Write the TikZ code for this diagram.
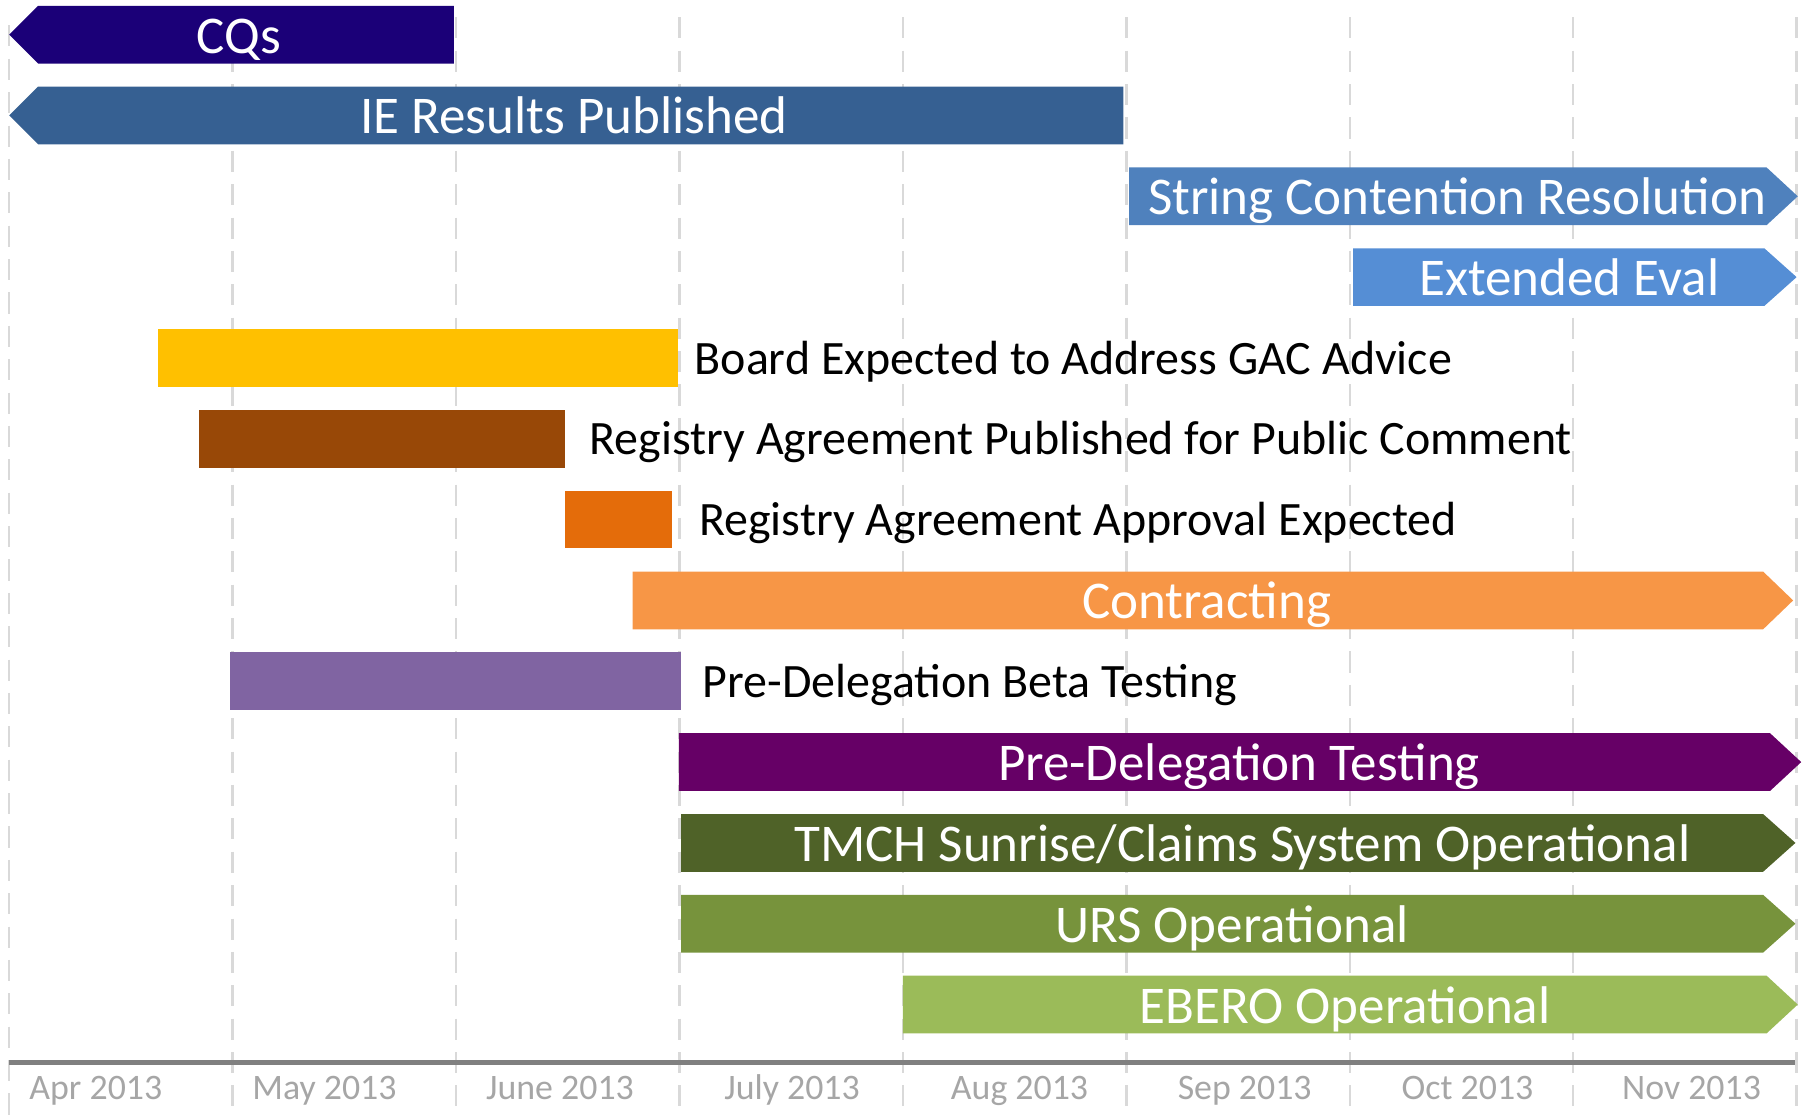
\documentclass[tikz,border=0pt]{standalone}
\usepackage{fontspec}
\setmainfont{Carlito}
\definecolor{gridgray}{HTML}{D9D9D9}
\definecolor{axisgray}{HTML}{808080}
\definecolor{monthgray}{HTML}{A6A6A6}
\definecolor{cqs}{HTML}{1B0078}
\definecolor{ie}{HTML}{366092}
\definecolor{scr}{HTML}{4F81BD}
\definecolor{ext}{HTML}{558ED5}
\definecolor{board}{HTML}{FFC000}
\definecolor{rapub}{HTML}{984807}
\definecolor{raapp}{HTML}{E46C0A}
\definecolor{contr}{HTML}{F79646}
\definecolor{pdbt}{HTML}{8064A2}
\definecolor{pdt}{HTML}{660066}
\definecolor{tmch}{HTML}{4F6228}
\definecolor{urs}{HTML}{77933C}
\definecolor{ebero}{HTML}{9BBB59}
\newcommand{\rbar}[5]{\fill[#1] (#2,{#5-25}) -- (#3,{#5-25}) -- (#4,#5) -- (#3,{#5+25}) -- (#2,{#5+25}) -- cycle;}
\newcommand{\lbar}[5]{\fill[#1] (#2,#5) -- (#3,{#5-25}) -- (#4,{#5-25}) -- (#4,{#5+25}) -- (#3,{#5+25}) -- cycle;}
\newcommand{\sbar}[4]{\fill[#1] (#2,{#4-25}) rectangle (#3,{#4+25});}
\begin{document}
\begin{tikzpicture}[x=0.011546cm,y=-0.011546cm]
\tikzset{
  gridln/.style={draw=gridgray, dash pattern=on 6pt off 3.5pt, line width=0.7pt},
  bartext/.style={text=white, font=\fontsize{15.1}{18}\selectfont, anchor=base, inner sep=0pt},
  lbl/.style={text=black, font=\fontsize{13.65}{16}\selectfont, anchor=base west, inner sep=0pt},
  month/.style={text=monthgray, font=\fontsize{10.2}{12}\selectfont, anchor=base, inner sep=0pt}
}
\useasboundingbox (0,0) rectangle (1565,968.3);
% grid
\draw[gridln] (8,22) -- (8,968.3);
\foreach \x in {201.5,395,588.5,782,975.5,1169,1362.5,1556}
  \draw[gridln] (\x,15) -- (\x,968.3);
% axis
\draw[axisgray, line width=1.3pt] (8,920) -- (1555,920);
% bars
\lbar{cqs}{8}{33}{393}{30}
\lbar{ie}{8}{33}{973}{100}
\rbar{scr}{978}{1530}{1557}{170}
\rbar{ext}{1172}{1528}{1556}{240}
\sbar{board}{137}{587}{310}
\sbar{rapub}{172}{489}{380}
\sbar{raapp}{489}{582}{450}
\rbar{contr}{548}{1527}{1553}{520}
\sbar{pdbt}{199}{590}{590}
\rbar{pdt}{588}{1533}{1560}{660}
\rbar{tmch}{590}{1527}{1555}{730}
\rbar{urs}{590}{1527}{1555}{800}
\rbar{ebero}{782}{1530}{1557}{870}
% texts
\node[bartext] (tcqs) at (207,46) {CQs};
\node[bartext] (tie) at (497,116) {IE Results Published};
\node[bartext] (tscr) at (1262,186) {String Contention Resolution};
\node[bartext] (text) at (1359,256) {Extended Eval};
\node[lbl] (tboard) at (601,324) {Board Expected to Address GAC Advice};
\node[lbl] (trapub) at (510,394) {Registry Agreement Published for Public Comment};
\node[lbl] (traapp) at (605,464) {Registry Agreement Approval Expected};
\node[bartext] (tcontr) at (1045,536) {Contracting};
\node[lbl] (tpdbt) at (608,604) {Pre-Delegation Beta Testing};
\node[bartext] (tpdt) at (1073,676) {Pre-Delegation Testing};
\node[bartext] (ttmch) at (1076,746) {TMCH Sunrise/Claims System Operational};
\node[bartext] (turs) at (1067,816) {URS Operational};
\node[bartext] (tebero) at (1165,886) {EBERO Operational};
% months
\node[month] (m1) at (83,952.6) {Apr 2013};
\node[month] (m2) at (281,952.6) {May 2013};
\node[month] (m3) at (485,952.6) {June 2013};
\node[month] (m4) at (686,952.6) {July 2013};
\node[month] (m5) at (883,952.6) {Aug 2013};
\node[month] (m6) at (1078,952.6) {Sep 2013};
\node[month] (m7) at (1271,952.6) {Oct 2013};
\node[month] (m8) at (1465,952.6) {Nov 2013};
\end{tikzpicture}
\end{document}
